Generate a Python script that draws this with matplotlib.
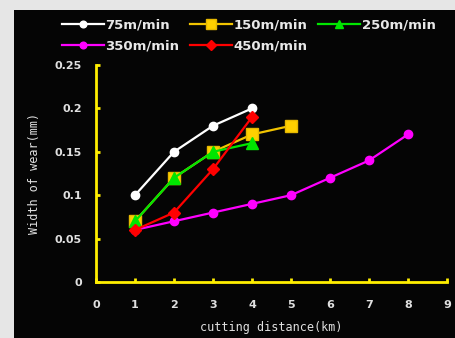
import matplotlib
matplotlib.use("Agg")
import matplotlib.pyplot as plt
from matplotlib.patches import Rectangle

# Data
series_names = ["75m/min", "150m/min", "250m/min", "350m/min", "450m/min"]
x_75 = [1, 2, 3, 4]
y_75 = [0.10, 0.15, 0.18, 0.20]
x_150 = [1, 2, 3, 4, 5]
y_150 = [0.07, 0.12, 0.15, 0.17, 0.18]
x_250 = [1, 2, 3, 4]
y_250 = [0.07, 0.12, 0.15, 0.16]
x_350 = [1, 2, 3, 4, 5, 6, 7, 8]
y_350 = [0.06, 0.07, 0.08, 0.09, 0.10, 0.12, 0.14, 0.17]
x_450 = [1, 2, 3, 4]
y_450 = [0.06, 0.08, 0.13, 0.19]
x_ticks = list(range(0, 10))
y_ticks = [0, 0.05, 0.1, 0.15, 0.2, 0.25]
y_tick_labels = ["0", "0.05", "0.1", "0.15", "0.2", "0.25"]

W, H = 455, 338
fig = plt.figure(figsize=(W / 100, H / 100), dpi=100)
fig.patch.set_facecolor("#e6e6e6")
# black panel
fig.patches.append(Rectangle((14 / W, 0), (W - 14) / W, (H - 10) / H,
                             transform=fig.transFigure, facecolor="#050505",
                             edgecolor="none", zorder=-5))

ax = fig.add_axes([96 / W, (H - 282) / H, (447 - 96) / W, (282 - 65) / H])
ax.set_facecolor("#050505")

lw = 1.6
h75, = ax.plot(x_75, y_75, color="white", marker="o", markersize=6, lw=lw, label=series_names[0], zorder=3)
h150, = ax.plot(x_150, y_150, color="#f2c400", marker="s", markersize=9, markerfacecolor="#ffd000",
                markeredgecolor="#e6b800", lw=lw, label=series_names[1], zorder=2)
h250, = ax.plot(x_250, y_250, color="#00e600", marker="^", markersize=8, lw=lw, label=series_names[2], zorder=4)
h350, = ax.plot(x_350, y_350, color="#ff00ff", marker="o", markersize=6, lw=lw, label=series_names[3], zorder=3)
h450, = ax.plot(x_450, y_450, color="#ff0000", marker="D", markersize=6, lw=lw, label=series_names[4], zorder=5)

ax.set_xlim(0, 9)
ax.set_ylim(0, 0.25)
ax.set_xticks(x_ticks)
ax.set_yticks(y_ticks)
ax.set_yticklabels(y_tick_labels)
for s in ["top", "right"]:
    ax.spines[s].set_visible(False)
for s in ["left", "bottom"]:
    ax.spines[s].set_color("#ffee00")
    ax.spines[s].set_linewidth(2)
ax.tick_params(direction="in", color="#ffee00", length=3, width=2,
               labelcolor="#e0e0e0", labelsize=8)
ax.tick_params(axis="x", pad=13)
ax.tick_params(axis="y", pad=10)
for lab in ax.get_xticklabels() + ax.get_yticklabels():
    lab.set_fontweight("bold")

ax.set_xlabel("cutting distance(km)", color="#e0e0e0", fontsize=8.5,
              family="DejaVu Sans Mono", labelpad=8)
ax.set_ylabel("Width of wear(mm)", color="#e0e0e0", fontsize=8.5,
              family="DejaVu Sans Mono", labelpad=10)

handles = [h75, h350, h150, h450, h250]
leg = fig.legend(handles=handles, labels=[h.get_label() for h in handles],
                 ncol=3, loc="upper left", bbox_to_anchor=(50 / W, 1 - 7 / H),
                 frameon=False, handlelength=3.2, handletextpad=0.1,
                 columnspacing=0.8, labelspacing=0.6,
                 prop={"size": 9.5, "weight": "bold"}, markerscale=0.8)
for t in leg.get_texts():
    t.set_color("#e8e8e8")

fig.savefig("out.png", dpi=100, facecolor=fig.get_facecolor())
